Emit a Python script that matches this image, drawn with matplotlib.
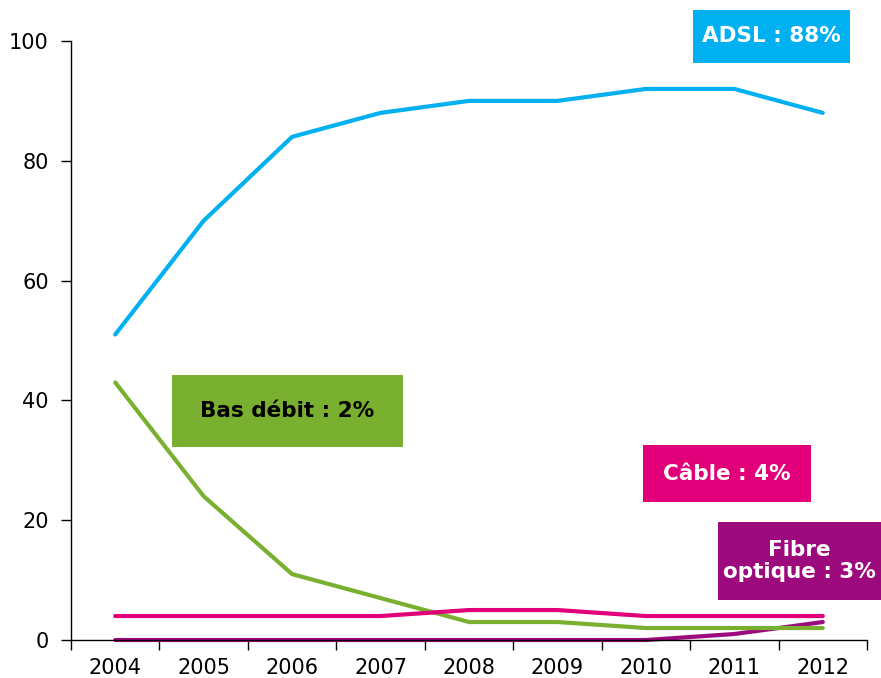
import matplotlib
matplotlib.use("Agg")
import matplotlib.pyplot as plt
from matplotlib.patches import Rectangle

years = ["2004", "2005", "2006", "2007", "2008", "2009", "2010", "2011", "2012"]
adsl = [51, 70, 84, 88, 90, 90, 92, 92, 88]
bas_debit = [43, 24, 11, 7, 3, 3, 2, 2, 2]
cable = [4, 4, 4, 4, 5, 5, 4, 4, 4]
fibre = [0, 0, 0, 0, 0, 0, 0, 1, 3]

c_adsl = "#00B0F0"
c_bas = "#7AB030"
c_cable = "#E2007A"
c_fibre = "#9C0A7D"

W, H = 881, 678
fig = plt.figure(figsize=(W / 100, H / 100), dpi=100)
ax = fig.add_axes([71 / W, (H - 640) / H, (867 - 71) / W, (640 - 41) / H])

x = list(range(len(years)))
for vals, col in [(fibre, c_fibre), (bas_debit, c_bas), (cable, c_cable), (adsl, c_adsl)]:
    ax.plot(x, vals, color=col, lw=3.0, solid_capstyle="round", solid_joinstyle="round", clip_on=False)

ax.set_xlim(-0.5, len(years) - 0.5)
ax.set_ylim(0, 100)
ax.set_yticks(range(0, 101, 20))
ax.set_xticks(x)
ax.set_xticklabels(years)
ax.set_xticks([i - 0.5 for i in range(len(years) + 1)], minor=True)
ax.tick_params(axis="x", which="major", length=0, pad=13, labelsize=15)
ax.tick_params(axis="x", which="minor", length=7, direction="out", width=1)
ax.tick_params(axis="y", length=7, direction="out", width=1, labelsize=15, pad=9)
for s in ["top", "right"]:
    ax.spines[s].set_visible(False)
for s in ["left", "bottom"]:
    ax.spines[s].set_linewidth(1)

def box(x0, y0, x1, y1, fc, text, tc):
    fig.add_artist(Rectangle((x0 / W, 1 - y1 / H), (x1 - x0) / W, (y1 - y0) / H,
                             transform=fig.transFigure, facecolor=fc, edgecolor="none", zorder=5))
    fig.text((x0 + x1) / 2 / W, 1 - (y0 + y1) / 2 / H, text, color=tc, fontsize=15.5,
             fontweight="bold", ha="center", va="center", multialignment="center",
             zorder=6, linespacing=1.1)

box(693, 10, 850, 63, c_adsl, "ADSL : 88%", "white")
box(172, 375, 403, 447, c_bas, "Bas débit : 2%", "black")
box(643, 445, 811, 502, c_cable, "Câble : 4%", "white")
box(718, 522, 881, 600, c_fibre, "Fibre\noptique : 3%", "white")

fig.savefig("out.png", dpi=100)
